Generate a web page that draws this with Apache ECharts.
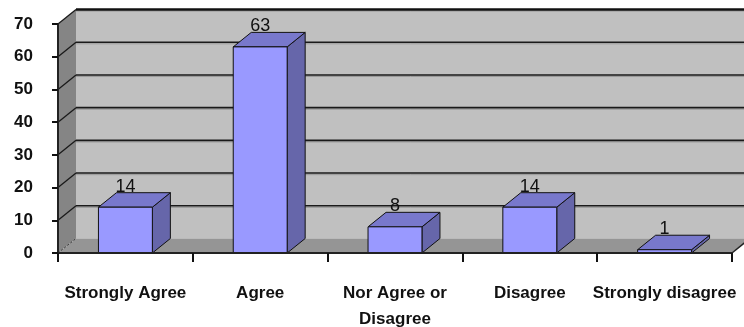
<!DOCTYPE html>
<html>
<head>
<meta charset="utf-8">
<script src="https://cdn.jsdelivr.net/npm/echarts@6/dist/echarts.min.js"></script>
<style>
  html, body { margin: 0; padding: 0; background: #ffffff; }
  #chart { width: 744px; height: 327px; }
</style>
</head>
<body>
<div id="chart"></div>
<script>
// Survey responses per answer option
var categories = ['Strongly Agree', 'Agree', 'Nor Agree or\nDisagree', 'Disagree', 'Strongly disagree'];
var responses = [14, 63, 8, 14, 1];

// Value axis range
var yMin = 0;
var yMax = 70;
var yStep = 10;

// Depth of the pseudo-3D box, in pixels (towards the back wall)
var DEPTH_X = 18;
var DEPTH_Y = -14.5;

var chart = echarts.init(document.getElementById('chart'));

// Back wall, side wall, floor and gridlines
function renderWalls(params, api) {
  var band = api.size([1, 0])[0];
  var L = api.coord([0, yMin])[0] - band / 2;
  var R = api.coord([categories.length - 1, yMin])[0] + band / 2;
  var y0 = api.coord([0, yMin])[1];
  var yTop = api.coord([0, yMax])[1];
  var children = [];

  // back wall
  children.push({
    type: 'rect',
    shape: { x: L + DEPTH_X, y: yTop + DEPTH_Y, width: R - L + 20, height: y0 - yTop },
    style: { fill: '#c0c0c0' }
  });
  // left side wall
  children.push({
    type: 'polygon',
    shape: { points: [[L, yTop], [L + DEPTH_X, yTop + DEPTH_Y], [L + DEPTH_X, y0 + DEPTH_Y], [L, y0]] },
    style: { fill: '#858585' }
  });
  // floor
  children.push({
    type: 'polygon',
    shape: { points: [[L, y0], [L + DEPTH_X, y0 + DEPTH_Y], [R + DEPTH_X, y0 + DEPTH_Y], [R, y0]] },
    style: { fill: '#959595' }
  });
  // floor right edge
  children.push({
    type: 'line',
    shape: { x1: R, y1: y0, x2: R + DEPTH_X, y2: y0 + DEPTH_Y },
    style: { stroke: '#222', lineWidth: 1.5 }
  });
  // floor/side corner
  children.push({
    type: 'line',
    shape: { x1: L, y1: y0, x2: L + DEPTH_X, y2: y0 + DEPTH_Y },
    style: { stroke: '#333', lineWidth: 1, lineDash: [2, 2] }
  });

  // gridlines on back wall and side wall
  for (var v = yMin + yStep; v <= yMax; v += yStep) {
    var y = api.coord([0, v])[1];
    children.push({
      type: 'line',
      shape: { x1: L + DEPTH_X, y1: y + DEPTH_Y + 1.6, x2: R + DEPTH_X + 20, y2: y + DEPTH_Y + 1.6 },
      style: { stroke: '#9a9a9a', lineWidth: 1 }
    });
    children.push({
      type: 'line',
      shape: { x1: L + DEPTH_X, y1: y + DEPTH_Y, x2: R + DEPTH_X + 20, y2: y + DEPTH_Y },
      style: { stroke: v === yMax ? '#111' : '#1a1a1a', lineWidth: v === yMax ? 2.5 : 1.6 }
    });
    children.push({
      type: 'line',
      shape: { x1: L, y1: y, x2: L + DEPTH_X, y2: y + DEPTH_Y },
      style: { stroke: '#1a1a1a', lineWidth: 1.3 }
    });
  }
  return { type: 'group', children: children };
}

// 3D column: front face, top face, right side face and value label
function renderBar(params, api) {
  var idx = api.value(0);
  var val = api.value(1);
  var band = api.size([1, 0])[0];
  var half = band * 0.2;
  var top = api.coord([idx, val]);
  var base = api.coord([idx, yMin]);
  var xl = top[0] - half, xr = top[0] + half;
  var yt = top[1], yb = base[1];
  var edge = { stroke: '#111', lineWidth: 1 };
  return {
    type: 'group',
    children: [
      {
        type: 'polygon',
        shape: { points: [[xr, yt], [xr + DEPTH_X, yt + DEPTH_Y], [xr + DEPTH_X, yb + DEPTH_Y], [xr, yb]] },
        style: Object.assign({ fill: '#6666aa' }, edge)
      },
      {
        type: 'polygon',
        shape: { points: [[xl, yt], [xl + DEPTH_X, yt + DEPTH_Y], [xr + DEPTH_X, yt + DEPTH_Y], [xr, yt]] },
        style: Object.assign({ fill: '#7878cc' }, edge)
      },
      {
        type: 'rect',
        shape: { x: xl, y: yt, width: xr - xl, height: yb - yt },
        style: Object.assign({ fill: '#9999ff' }, edge)
      },
      {
        type: 'text',
        x: top[0],
        y: yt + DEPTH_Y + 3,
        style: {
          text: String(val),
          fill: '#111',
          font: '18px "Liberation Sans", Arial, sans-serif',
          textAlign: 'center',
          textVerticalAlign: 'bottom'
        }
      }
    ]
  };
}

chart.setOption({
  animation: false,
  backgroundColor: '#ffffff',
  grid: { left: 58, right: 12, top: 24, bottom: 74, outerBoundsMode: 'none', containLabel: false },
  xAxis: {
    type: 'category',
    data: categories,
    z: 5,
    axisLine: { show: true, lineStyle: { color: '#222', width: 2 } },
    axisTick: { show: true, length: 9, lineStyle: { color: '#111', width: 2 } },
    axisLabel: {
      interval: 0,
      margin: 27,
      color: '#111',
      fontFamily: '"Liberation Sans", Arial, sans-serif',
      fontWeight: 'bold',
      fontSize: 17,
      lineHeight: 26
    },
    splitLine: { show: false }
  },
  yAxis: {
    type: 'value',
    min: yMin,
    max: yMax,
    interval: yStep,
    z: 5,
    axisLine: { show: true, lineStyle: { color: '#222', width: 2 } },
    axisTick: { show: true, length: 6, lineStyle: { color: '#111', width: 2 } },
    axisLabel: {
      margin: 25,
      color: '#111',
      fontFamily: '"Liberation Sans", Arial, sans-serif',
      fontWeight: 'bold',
      fontSize: 17
    },
    splitLine: { show: false }
  },
  series: [
    {
      type: 'custom',
      z: 1,
      silent: true,
      renderItem: renderWalls,
      data: [[0, 0]]
    },
    {
      type: 'custom',
      z: 2,
      renderItem: renderBar,
      encode: { x: 0, y: 1 },
      data: responses.map(function (v, i) { return [i, v]; })
    }
  ]
});
</script>
</body>
</html>
